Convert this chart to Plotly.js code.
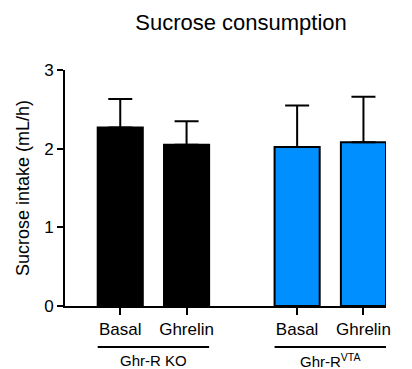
<!DOCTYPE html>
<html>
<head>
<meta charset="utf-8">
<script src="https://cdn.plot.ly/plotly-3.0.1.min.js"></script>
<style>html,body{margin:0;padding:0;background:#fff;}#chart{width:412px;height:369px;}</style>
</head>
<body>
<div id="chart"></div>
<script>
// Data
const groups = ["Ghr-R KO", "Ghr-R<sup>VTA</sup>"];
const conditions = ["Basal", "Ghrelin"];
const koMeans = [2.27, 2.05];
const koErr = [0.36, 0.30];
const vtaMeans = [2.02, 2.08];
const vtaErr = [0.53, 0.58];

// layout helpers (positions)
const groupGap = 2.667;
function xpos(g, i) { return g * groupGap + i; }
const koX = conditions.map((c, i) => xpos(0, i));
const vtaX = conditions.map((c, i) => xpos(1, i));
const font = "Arial, 'Liberation Sans', sans-serif";
const barW = 0.68;

const traces = [
  {
    type: "bar", x: koX, y: koMeans, width: barW,
    marker: {color: "#000000", line: {color: "#000000", width: 2}},
    error_y: {type: "data", symmetric: false, array: koErr, arrayminus: koErr.map(() => 0), color: "#000", thickness: 2, width: 12},
    hoverinfo: "none"
  },
  {
    type: "bar", x: vtaX, y: vtaMeans, width: barW,
    marker: {color: "#008FFF", line: {color: "#000000", width: 2}},
    error_y: {type: "data", symmetric: false, array: vtaErr, arrayminus: vtaErr.map(() => 0), color: "#000", thickness: 2, width: 12},
    hoverinfo: "none"
  }
];

const tickvals = koX.concat(vtaX);
const ticktext = conditions.concat(conditions);

const shapes = [];
const annotations = [];
[koX, vtaX].forEach((xs, g) => {
  shapes.push({type: "line", xref: "x", yref: "paper",
    x0: xs[0] - barW / 2, x1: xs[xs.length - 1] + barW / 2,
    y0: -0.174, y1: -0.174, line: {color: "#000", width: 2}});
  annotations.push({xref: "x", yref: "paper",
    x: (xs[0] + xs[xs.length - 1]) / 2, y: -0.229,
    text: groups[g], showarrow: false, yanchor: "middle",
    font: {family: font, size: 15, color: "#000"}});
});

const layout = {
  width: 412, height: 369,
  margin: {l: 65, r: 26, t: 70, b: 63},
  paper_bgcolor: "#fff", plot_bgcolor: "#fff",
  showlegend: false,
  barmode: "overlay",
  title: {text: "Sucrose consumption", font: {family: font, size: 22, color: "#000"},
    x: 0.585, xref: "container", xanchor: "center", y: 0.94, yref: "container", yanchor: "middle"},
  xaxis: {
    range: [-0.833, xpos(1, 1) + barW / 2],
    tickmode: "array", tickvals: tickvals, ticktext: ticktext,
    showline: true, linecolor: "#000", linewidth: 2,
    ticks: "outside", ticklen: 7, tickwidth: 2, tickcolor: "#000",
    showgrid: false, zeroline: false,
    tickfont: {family: font, size: 17, color: "#000"}
  },
  yaxis: {
    range: [0, 3], tickvals: [0, 1, 2, 3],
    showline: true, linecolor: "#000", linewidth: 2,
    ticks: "outside", ticklen: 6, tickwidth: 2, tickcolor: "#000",
    showgrid: false, zeroline: false,
    tickfont: {family: font, size: 17, color: "#000"},
    title: {text: "Sucrose intake (mL/h)", font: {family: font, size: 18, color: "#000"}, standoff: 10}
  },
  shapes: shapes,
  annotations: annotations
};

Plotly.newPlot("chart", traces, layout, {displayModeBar: false, staticPlot: true});
</script>
</body>
</html>
